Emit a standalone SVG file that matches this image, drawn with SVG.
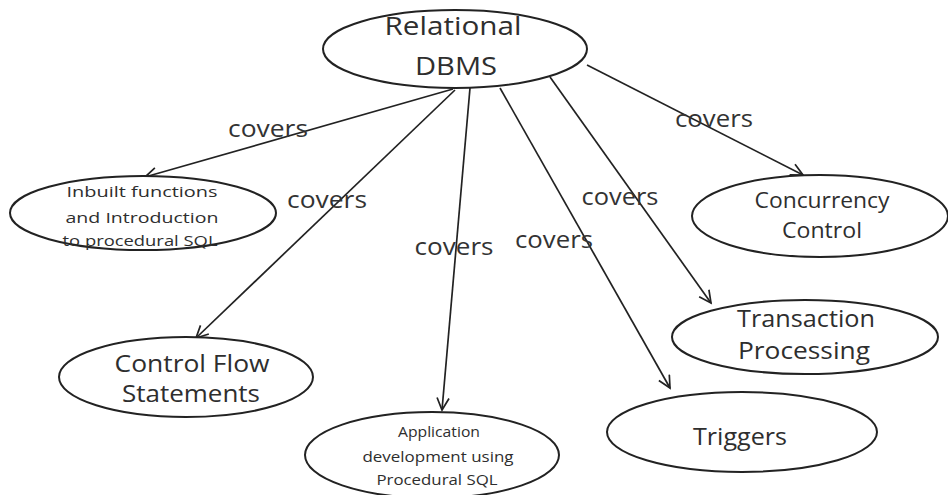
<svg xmlns="http://www.w3.org/2000/svg" width="948" height="495" viewBox="0 0 948 495">
  <defs>
    <marker id="arrow" markerUnits="userSpaceOnUse" markerWidth="16" markerHeight="16" refX="13" refY="7" orient="auto">
      <path d="M1,1 L13,7 L1,13" fill="none" stroke="#222" stroke-width="1.7"/>
    </marker>
    <style>
      .node ellipse { fill: #fff; stroke: #222; stroke-width: 2; }
      .node text { font-family: "Open Sans", "Liberation Sans", sans-serif; fill: #2e2e2e; text-anchor: middle; }
      .big { font-size: 23px; }
      .small { font-size: 15px; }
      .edges line { stroke: #222; stroke-width: 1.7; marker-end: url(#arrow); }
      .label { font-family: "Open Sans", "Liberation Sans", sans-serif; font-size: 24px; fill: #333; text-anchor: middle; }
    </style>
  </defs>
  <rect width="948" height="495" fill="#fff"/>

  <!-- connectors -->
  <g id="edges" class="edges">
    <line x1="453" y1="89" x2="145" y2="177"/>
    <line x1="455" y1="90" x2="196" y2="338"/>
    <line x1="470" y1="88" x2="442" y2="410"/>
    <line x1="500" y1="88" x2="670" y2="388"/>
    <line x1="550" y1="77" x2="711" y2="303"/>
    <line x1="587" y1="65" x2="803" y2="175"/>
  </g>

  <!-- edge labels -->
  <g id="edge-labels">
    <text class="label" x="268" y="137" textLength="80" lengthAdjust="spacingAndGlyphs">covers</text>
    <text class="label" x="327" y="208" textLength="80" lengthAdjust="spacingAndGlyphs">covers</text>
    <text class="label" x="454" y="255" textLength="79" lengthAdjust="spacingAndGlyphs">covers</text>
    <text class="label" x="554" y="248" textLength="78" lengthAdjust="spacingAndGlyphs">covers</text>
    <text class="label" x="620" y="205" textLength="77" lengthAdjust="spacingAndGlyphs">covers</text>
    <text class="label" x="714" y="127" textLength="78" lengthAdjust="spacingAndGlyphs">covers</text>
  </g>

  <g id="node-rdbms" class="node">
    <ellipse cx="455" cy="49" rx="132" ry="39"/>
    <text x="453" y="35" font-size="26" textLength="137" lengthAdjust="spacingAndGlyphs">Relational</text>
    <text x="456" y="75" font-size="26" textLength="82" lengthAdjust="spacingAndGlyphs">DBMS</text>
  </g>

  <g id="node-inbuilt" class="node">
    <ellipse cx="143" cy="213" rx="133" ry="37"/>
    <text class="small" x="142" y="197" textLength="151" lengthAdjust="spacingAndGlyphs">Inbuilt functions</text>
    <text class="small" x="142" y="223" textLength="153" lengthAdjust="spacingAndGlyphs">and Introduction</text>
    <text class="small" x="140" y="246" textLength="155" lengthAdjust="spacingAndGlyphs">to procedural SQL</text>
  </g>

  <g id="node-concurrency" class="node">
    <ellipse cx="820" cy="216" rx="128" ry="41"/>
    <text x="822" y="208" font-size="21" textLength="135" lengthAdjust="spacingAndGlyphs">Concurrency</text>
    <text x="822" y="238" font-size="21" textLength="80" lengthAdjust="spacingAndGlyphs">Control</text>
  </g>

  <g id="node-controlflow" class="node">
    <ellipse cx="186" cy="377" rx="127" ry="40"/>
    <text class="big" x="192" y="372" textLength="155" lengthAdjust="spacingAndGlyphs">Control Flow</text>
    <text class="big" x="191" y="402" textLength="138" lengthAdjust="spacingAndGlyphs">Statements</text>
  </g>

  <g id="node-application" class="node">
    <ellipse cx="432" cy="455" rx="127" ry="43"/>
    <text class="small" x="439" y="437" textLength="82" lengthAdjust="spacingAndGlyphs">Application</text>
    <text class="small" x="438" y="462" textLength="151" lengthAdjust="spacingAndGlyphs">development using</text>
    <text class="small" x="437" y="485" textLength="121" lengthAdjust="spacingAndGlyphs">Procedural  SQL</text>
  </g>

  <g id="node-transaction" class="node">
    <ellipse cx="805" cy="337" rx="133" ry="37"/>
    <text class="big" x="806" y="327" textLength="138" lengthAdjust="spacingAndGlyphs">Transaction</text>
    <text class="big" x="804" y="359" textLength="132" lengthAdjust="spacingAndGlyphs">Processing</text>
  </g>

  <g id="node-triggers" class="node">
    <ellipse cx="742" cy="432" rx="135" ry="40"/>
    <text class="big" x="740" y="445" textLength="94" lengthAdjust="spacingAndGlyphs">Triggers</text>
  </g>
</svg>
